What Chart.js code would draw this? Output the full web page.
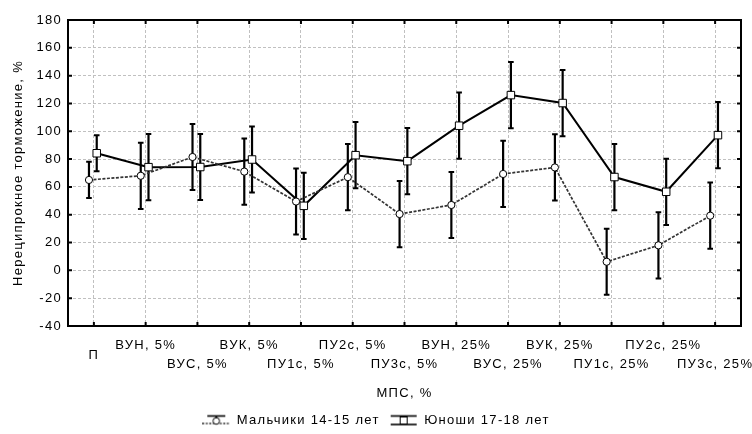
<!DOCTYPE html>
<html>
<head>
<meta charset="utf-8">
<script src="https://cdn.jsdelivr.net/npm/chart.js@4/dist/chart.umd.min.js"></script>
<style>
html, body { margin: 0; padding: 0; background: #fff; }
#wrap { width: 752px; height: 434px; }
</style>
</head>
<body>
<div id="wrap"><canvas id="chart"></canvas></div>
<script>
const categories = ['П', 'ВУН, 5%', 'ВУС, 5%', 'ВУК, 5%', 'ПУ1с, 5%', 'ПУ2с, 5%', 'ПУ3с, 5%',
    'ВУН, 25%', 'ВУС, 25%', 'ВУК, 25%', 'ПУ1с, 25%', 'ПУ2с, 25%', 'ПУ3с, 25%'];
const boysMean = [65, 68, 81.5, 71, 49.5, 67, 40.5, 47, 69.3, 74, 6.2, 18, 39.3];
const boysErr = [13, 23.8, 23.8, 23.8, 23.8, 23.8, 23.8, 23.8, 23.8, 23.8, 23.8, 23.8, 23.8];
const youthMean = [84.2, 74.2, 74.3, 79.7, 46.4, 82.8, 78.5, 104, 126, 120.3, 67.1, 56.5, 97.2];
const youthErr = [13, 23.8, 23.8, 23.8, 23.8, 23.8, 23.8, 23.8, 23.8, 23.8, 23.8, 23.8, 23.8];
const yTicks = [-40, -20, 0, 20, 40, 60, 80, 100, 120, 140, 160, 180];
const seriesNames = ['Мальчики 14-15 лет', 'Юноши 17-18 лет'];

Chart.defaults.font.family = '"Liberation Sans", Arial, sans-serif';
Chart.defaults.font.size = 13;
Chart.defaults.color = '#000';

// small offsets so the two series don't sit on top of each other
const BOYS_SHIFT = -0.095;
const YOUTH_SHIFT = 0.055;
const GRID_COLOR = '#c0c0c0';

function legendIcon(kind) {
    const c = document.createElement('canvas');
    c.width = 28; c.height = 14;
    const g = c.getContext('2d');
    g.strokeStyle = '#000';
    g.lineWidth = 1.6;
    g.beginPath(); g.moveTo(kind === 'boys' ? 5 : 1, 2.5); g.lineTo(kind === 'boys' ? 23 : 27, 2.5); g.stroke();
    g.beginPath(); g.moveTo(14, 2.5); g.lineTo(14, 11); g.stroke();
    if (kind === 'boys') {
        g.setLineDash([2, 1.5]);
        g.strokeStyle = '#333';
        g.beginPath(); g.moveTo(0, 10); g.lineTo(28, 10); g.stroke();
        g.setLineDash([]);
        g.fillStyle = '#fff'; g.strokeStyle = '#000'; g.lineWidth = 1;
        g.beginPath(); g.arc(14, 7.5, 3.3, 0, Math.PI * 2); g.fill(); g.stroke();
    } else {
        g.beginPath(); g.moveTo(1, 11); g.lineTo(27, 11); g.stroke();
        g.fillStyle = '#fff'; g.strokeStyle = '#000'; g.lineWidth = 1;
        g.fillRect(10.5, 3.5, 7, 7); g.strokeRect(10.5, 3.5, 7, 7);
    }
    return c;
}
const legendIcons = [legendIcon('boys'), legendIcon('youth')];

const textSpacing = {
    id: 'textSpacing',
    beforeUpdate(chart) { chart.ctx.letterSpacing = '1.3px'; },
    beforeDraw(chart) { chart.ctx.letterSpacing = '1.3px'; }
};

const errorBars = {
    id: 'errorBars',
    beforeDatasetsDraw(chart) {
        const { ctx, scales: { xv, y } } = chart;
        ctx.save();
        ctx.strokeStyle = '#000';
        chart.data.datasets.forEach(ds => {
            ds.data.forEach((p, i) => {
                const px = xv.getPixelForValue(p.x);
                const top = y.getPixelForValue(p.y + ds.errors[i]);
                const bot = y.getPixelForValue(p.y - ds.errors[i]);
                ctx.lineWidth = 2.2;
                ctx.beginPath(); ctx.moveTo(px, top); ctx.lineTo(px, bot); ctx.stroke();
                ctx.lineWidth = 2;
                ctx.beginPath();
                ctx.moveTo(px - 2.8, top); ctx.lineTo(px + 2.8, top);
                ctx.moveTo(px - 2.8, bot); ctx.lineTo(px + 2.8, bot);
                ctx.stroke();
            });
        });
        ctx.restore();
    }
};

const frame = {
    id: 'frame',
    afterDraw(chart) {
        const { ctx, chartArea: a, scales: { x, y } } = chart;
        ctx.save();
        ctx.strokeStyle = '#000';
        ctx.lineWidth = 2;
        ctx.strokeRect(a.left, a.top, a.right - a.left, a.bottom - a.top);
        ctx.beginPath();
        yTicks.forEach(v => {
            const py = y.getPixelForValue(v);
            ctx.moveTo(a.left, py); ctx.lineTo(a.left + 4, py);
            ctx.moveTo(a.right, py); ctx.lineTo(a.right - 4, py);
        });
        categories.forEach((c, i) => {
            const px = x.getPixelForValue(i);
            ctx.moveTo(px, a.bottom); ctx.lineTo(px, a.bottom - 4);
            ctx.moveTo(px, a.top); ctx.lineTo(px, a.top + 4);
        });
        ctx.stroke();
        ctx.restore();
    }
};

new Chart(document.getElementById('chart'), {
    type: 'line',
    data: {
        labels: categories,
        datasets: [
            {
                label: seriesNames[0],
                xAxisID: 'xv',
                data: boysMean.map((v, i) => ({ x: i + BOYS_SHIFT, y: v })),
                errors: boysErr,
                borderColor: '#333',
                borderWidth: 1.7,
                borderDash: [3, 1.5],
                pointStyle: 'circle',
                pointRadius: 3.6,
                pointBorderWidth: 1,
                pointBorderColor: '#000',
                pointBackgroundColor: '#fff',
                tension: 0
            },
            {
                label: seriesNames[1],
                xAxisID: 'xv',
                data: youthMean.map((v, i) => ({ x: i + YOUTH_SHIFT, y: v })),
                errors: youthErr,
                borderColor: '#000',
                borderWidth: 2,
                pointStyle: 'rect',
                pointRadius: 5.3,
                pointBorderWidth: 1,
                pointBorderColor: '#000',
                pointBackgroundColor: '#fff',
                tension: 0
            }
        ]
    },
    options: {
        responsive: true,
        maintainAspectRatio: false,
        animation: false,
        layout: { padding: { top: 20, right: 11, left: 11, bottom: -3 } },
        plugins: {
            tooltip: { enabled: false },
            legend: {
                position: 'bottom',
                labels: {
                    usePointStyle: true,
                    pointStyleWidth: 28,
                    padding: 10,
                    font: { size: 13 },
                    color: '#000',
                    generateLabels(chart) {
                        const items = Chart.defaults.plugins.legend.labels.generateLabels(chart);
                        items.forEach((it, i) => { it.pointStyle = legendIcons[i]; it.fontColor = '#000'; });
                        return items;
                    }
                }
            }
        },
        scales: {
            x: {
                type: 'category',
                offset: true,
                afterFit(scale) {
                    scale.height = 78;
                    scale.paddingLeft = 0;
                    scale.paddingRight = 0;
                },
                ticks: {
                    autoSkip: false,
                    maxRotation: 0,
                    padding: 15,
                    font: { size: 13, lineHeight: '9.5px' },
                    callback(value, index) {
                        const row = index === 0 ? 1 : (index % 2 ? 0 : 2);
                        const lines = ['', '', ''];
                        lines[row] = categories[index];
                        return lines;
                    }
                },
                grid: { offset: false, color: GRID_COLOR, lineWidth: 1, drawTicks: false },
                border: { display: false, dash: [3, 2] },
                title: { display: true, text: 'МПС, %', font: { size: 13 }, padding: { top: 0, bottom: 3 } }
            },
            xv: {
                type: 'linear',
                display: false,
                min: -0.5,
                max: 12.5
            },
            y: {
                min: -40,
                max: 180,
                afterFit(scale) { scale.width = 57; },
                ticks: { stepSize: 20, padding: 6, font: { size: 13 } },
                grid: { color: GRID_COLOR, lineWidth: 1, drawTicks: false },
                border: { display: false, dash: [3, 2] },
                title: { display: true, text: 'Нереципрокное торможение, %', font: { size: 13 }, padding: { top: 0, bottom: 0 } }
            }
        }
    },
    plugins: [textSpacing, errorBars, frame]
});
</script>
</body>
</html>
